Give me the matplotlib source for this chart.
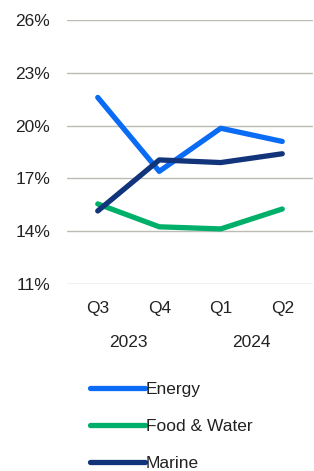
import matplotlib
matplotlib.use("Agg")
import matplotlib.pyplot as plt
from matplotlib.lines import Line2D

quarters = ["Q3", "Q4", "Q1", "Q2"]
years = ["2023", "2024"]
energy = [21.6, 17.4, 19.85, 19.1]
food_water = [15.55, 14.25, 14.13, 15.26]
marine = [15.15, 18.05, 17.9, 18.4]
yticks = [11, 14, 17, 20, 23, 26]

plt.rcParams['font.family'] = ['Liberation Sans', 'DejaVu Sans']

W, H = 314, 471
fs = 12.5
fig = plt.figure(figsize=(W/100, H/100), dpi=100)
ax = fig.add_axes([67/W, 1-284/H, 246/W, 264/H])

x = list(range(len(quarters)))
c_energy = "#0a6cf5"
c_food = "#00b06a"
c_marine = "#12347a"
lw = 3.8
ax.plot(x, energy, color=c_energy, lw=lw, solid_capstyle='round', zorder=3)
ax.plot(x, food_water, color=c_food, lw=lw, solid_capstyle='round', zorder=3)
ax.plot(x, marine, color=c_marine, lw=lw, solid_capstyle='round', zorder=4)

ax.set_xlim(-0.5, 3.5)
ax.set_ylim(11, 26)
ax.set_yticks(yticks)
ax.set_yticklabels([f"{v}%" for v in yticks], fontsize=fs, color="#222222")
ax.yaxis.grid(True, color="#bcbcb4", lw=1)
ax.set_axisbelow(True)
ax.tick_params(axis='y', length=0, pad=12)
ax.set_xticks(x)
ax.set_xticklabels(quarters, fontsize=fs, color="#222222")
ax.tick_params(axis='x', length=0, pad=12)
for s in ax.spines.values():
    s.set_visible(False)

# year labels
ax.text(0.5, -0.22, years[0], transform=ax.get_xaxis_transform(), ha='center', va='center', fontsize=fs, color="#222222")
ax.text(2.5, -0.22, years[1], transform=ax.get_xaxis_transform(), ha='center', va='center', fontsize=fs, color="#222222")

# legend
handles = [Line2D([0], [0], color=c_energy, lw=lw, solid_capstyle='round'),
           Line2D([0], [0], color=c_food, lw=lw, solid_capstyle='round'),
           Line2D([0], [0], color=c_marine, lw=lw, solid_capstyle='round')]
leg = fig.legend(handles, ["Energy", "Food & Water", "Marine"], loc='upper left',
                 bbox_to_anchor=(81/W, 1-373/H), frameon=False, fontsize=fs,
                 handlelength=3.2, handletextpad=0.05, labelspacing=1.27, borderpad=0)
for t in leg.get_texts():
    t.set_color("#222222")

fig.savefig("out.png", dpi=100)
